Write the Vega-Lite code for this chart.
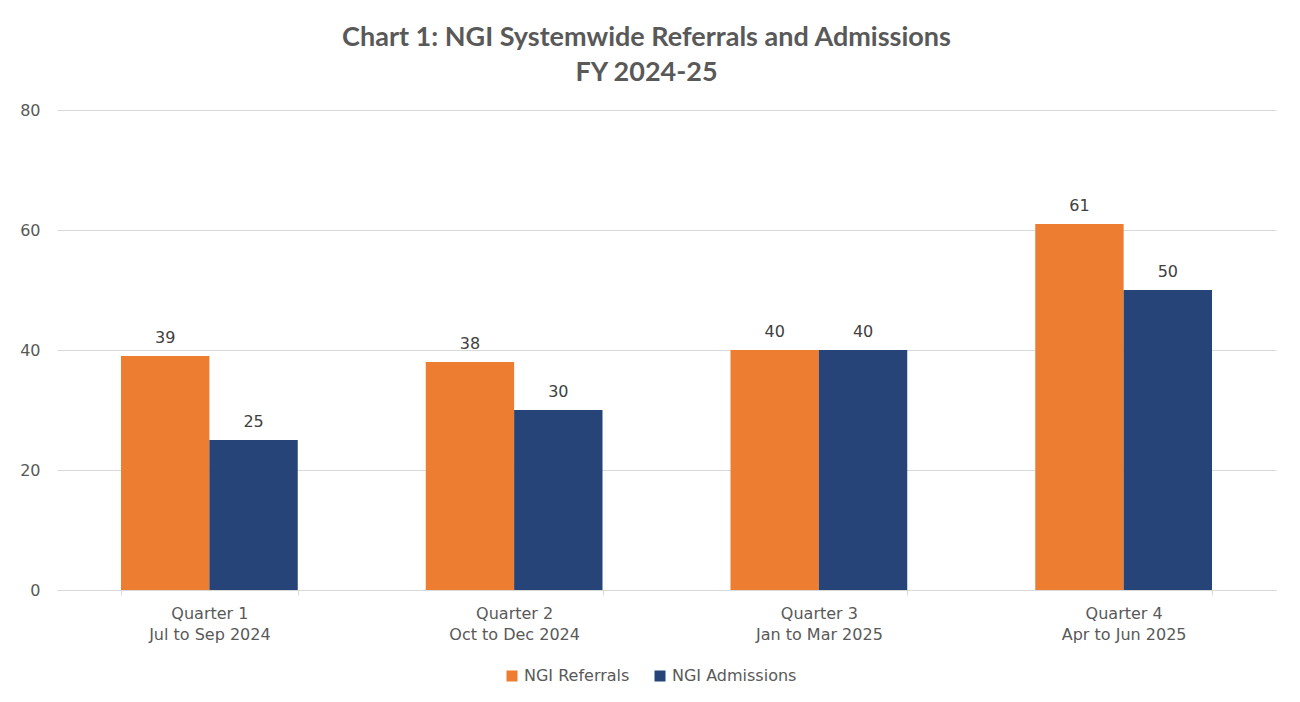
{
  "$schema": "https://vega.github.io/schema/vega-lite/v6.json",
  "width": 1219,
  "height": 480,
  "autosize": {"type": "none"},
  "padding": {"left": 57, "top": 110, "right": 24, "bottom": 112},
  "background": "white",
  "config": {"view": {"stroke": null}},
  "title": {
    "text": ["Chart 1: NGI Systemwide Referrals and Admissions", "FY 2024-25"],
    "font": "Lato",
    "fontSize": 27,
    "fontWeight": "bold",
    "color": "#595959",
    "lineHeight": 35,
    "anchor": "middle",
    "dx": -20,
    "offset": 15
  },
  "data": {
    "values": [
      {"quarter": "Quarter 1|Jul to Sep 2024", "series": "NGI Referrals", "value": 39},
      {"quarter": "Quarter 1|Jul to Sep 2024", "series": "NGI Admissions", "value": 25},
      {"quarter": "Quarter 2|Oct to Dec 2024", "series": "NGI Referrals", "value": 38},
      {"quarter": "Quarter 2|Oct to Dec 2024", "series": "NGI Admissions", "value": 30},
      {"quarter": "Quarter 3|Jan to Mar 2025", "series": "NGI Referrals", "value": 40},
      {"quarter": "Quarter 3|Jan to Mar 2025", "series": "NGI Admissions", "value": 40},
      {"quarter": "Quarter 4|Apr to Jun 2025", "series": "NGI Referrals", "value": 61},
      {"quarter": "Quarter 4|Apr to Jun 2025", "series": "NGI Admissions", "value": 50}
    ]
  },
  "encoding": {
    "x": {
      "field": "quarter",
      "type": "nominal",
      "sort": null,
      "scale": {"paddingInner": 0.42, "paddingOuter": 0.21},
      "axis": {
        "title": null,
        "labelAngle": 0,
        "labelExpr": "split(datum.label, '|')",
        "labelFont": "DejaVu Sans",
        "labelFontSize": 16,
        "labelColor": "#595959",
        "labelLineHeight": 21,
        "labelPadding": 10,
        "tickBand": "extent",
        "tickSize": 5,
        "tickColor": "#d9d9d9",
        "domainColor": "#d9d9d9",
        "grid": false
      }
    },
    "xOffset": {"field": "series", "type": "nominal", "sort": ["NGI Referrals", "NGI Admissions"], "scale": {"paddingInner": 0, "paddingOuter": 0}},
    "y": {
      "field": "value",
      "type": "quantitative",
      "scale": {"domain": [0, 80]},
      "axis": {
        "title": null,
        "values": [0, 20, 40, 60, 80],
        "domain": false,
        "ticks": false,
        "labelPadding": 17,
        "labelFont": "DejaVu Sans",
        "labelFontSize": 16,
        "labelColor": "#595959",
        "gridColor": "#d9d9d9",
        "gridWidth": 1
      }
    }
  },
  "layer": [
    {
      "mark": {"type": "bar"},
      "encoding": {
        "color": {
          "field": "series",
          "type": "nominal",
          "sort": ["NGI Referrals", "NGI Admissions"],
          "scale": {"domain": ["NGI Referrals", "NGI Admissions"], "range": ["#ED7D31", "#264478"]},
          "legend": {
            "title": null,
            "orient": "none",
            "legendX": 447,
            "legendY": 558,
            "direction": "horizontal",
            "symbolType": "square",
            "symbolSize": 121,
            "symbolStrokeWidth": 0,
            "labelFont": "DejaVu Sans",
            "labelFontSize": 16,
            "labelColor": "#595959",
            "labelOffset": 4,
            "columnPadding": 22
          }
        }
      }
    },
    {
      "mark": {"type": "text", "baseline": "bottom", "dy": -10, "font": "DejaVu Sans", "fontSize": 16, "color": "#404040"},
      "encoding": {"text": {"field": "value", "type": "quantitative"}}
    }
  ]
}
